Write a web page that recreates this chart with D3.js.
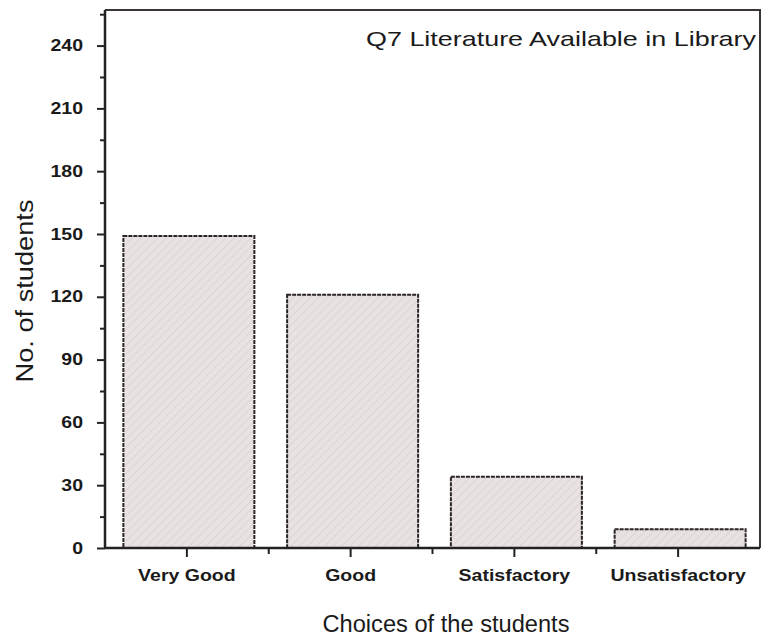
<!DOCTYPE html>
<html>
<head>
<meta charset="utf-8">
<script src="https://cdn.jsdelivr.net/npm/d3@7"></script>
<style>
  body { margin: 0; background: #fff; }
  svg text { font-family: "Liberation Sans", Arial, sans-serif; fill: #1a1a1a; }
</style>
</head>
<body>
<div id="chart"></div>
<script>
// datos
let categories = ['Very Good', 'Good', 'Satisfactory', 'Unsatisfactory'];
let students = [149, 121, 34, 9];
let yTicks = [0, 30, 60, 90, 120, 150, 180, 210, 240];
let yMax = 257;
let titleText = 'Q7 Literature Available in Library';

let margin = {top: 10, right: 2, bottom: 96, left: 105};
let W = 762, H = 644;
let width = W - margin.left - margin.right,
    height = H - margin.top - margin.bottom;
let stretch = 1.22; //la foto tiene el texto algo ensanchado

let svg = d3.select('#chart').append('svg')
    .attr('width', W)
    .attr('height', H);

//patron de rayas suaves para las barras
let defs = svg.append('defs');
let pat = defs.append('pattern')
    .attr('id', 'hatch')
    .attr('patternUnits', 'userSpaceOnUse')
    .attr('width', 6).attr('height', 6)
    .attr('patternTransform', 'rotate(45)');
pat.append('rect').attr('width', 6).attr('height', 6).attr('fill', '#e8e2e2');
pat.append('line').attr('x1', 0).attr('y1', 0).attr('x2', 0).attr('y2', 6)
    .attr('stroke', '#d5cdcd').attr('stroke-width', 1.2);

let chart = svg.append('g')
    .attr('transform', 'translate(' + margin.left + ',' + margin.top + ')');

let x_c = d3.scaleBand()
    .domain(categories)
    .range([0, width])
    .paddingInner(0.2)
    .paddingOuter(0.1);

let y_c = d3.scaleLinear()
    .domain([0, yMax])
    .range([height, 0]);

//barras
chart.selectAll('.bar')
    .data(categories)
    .enter()
    .append('rect')
    .attr('class', 'bar')
    .attr('x', function(d) { return x_c(d) + 2; })
    .attr('width', x_c.bandwidth())
    .attr('y', function(d, i) { return y_c(students[i]); })
    .attr('height', function(d, i) { return height - y_c(students[i]); })
    .attr('fill', 'url(#hatch)')
    .attr('stroke', '#2a2424')
    .attr('stroke-width', 2)
    .attr('stroke-dasharray', '4 1');

//marco superior y derecho
chart.append('path')
    .attr('d', 'M0,0H' + width + 'V' + height)
    .attr('fill', 'none')
    .attr('stroke', '#3a3434')
    .attr('stroke-width', 2);

//eje Y
let yMinor = d3.range(15, yMax, 30);
chart.append('g')
    .call(d3.axisLeft(y_c).tickValues(yMinor).tickSize(5).tickFormat(''))
    .call(function(g) { g.select('.domain').remove(); })
    .call(function(g) { g.selectAll('.tick line').attr('stroke', '#222').attr('stroke-width', 2); });

chart.append('g')
    .call(d3.axisLeft(y_c).tickValues(yTicks).tickSize(8))
    .call(function(g) {
        g.select('.domain').attr('stroke', '#222').attr('stroke-width', 2.5)
            .attr('d', 'M0,0V' + height);
        g.selectAll('.tick line').attr('stroke', '#222').attr('stroke-width', 2);
        g.selectAll('.tick text')
            .attr('font-size', 16).attr('font-weight', 'bold').attr('fill', '#222')
            .attr('x', -22 / stretch)
            .attr('transform', 'scale(' + stretch + ',1)');
    });

//eje X
let xMinorPos = categories.slice(1).map(function(d) { return x_c(d) - x_c.step() * x_c.paddingInner() / 2; });
chart.append('g')
    .attr('transform', 'translate(0,' + height + ')')
    .selectAll('line')
    .data(xMinorPos)
    .enter()
    .append('line')
    .attr('x1', function(d) { return d; }).attr('x2', function(d) { return d; })
    .attr('y1', 0).attr('y2', 6)
    .attr('stroke', '#222').attr('stroke-width', 2);

chart.append('g')
    .attr('transform', 'translate(0,' + height + ')')
    .call(d3.axisBottom(x_c).tickSize(9).tickPadding(13))
    .call(function(g) {
        g.select('.domain').attr('stroke', '#222').attr('stroke-width', 2.5)
            .attr('d', 'M0,0H' + width);
        g.selectAll('.tick line').attr('stroke', '#222').attr('stroke-width', 2);
        g.selectAll('.tick text')
            .attr('font-size', 16).attr('font-weight', 'bold').attr('fill', '#222')
            .attr('transform', 'scale(' + stretch + ',1)');
    });

//titulos
chart.append('text')
    .attr('x', width - 4)
    .attr('y', 36)
    .attr('text-anchor', 'end')
    .attr('font-size', 21)
    .attr('textLength', 390)
    .attr('lengthAdjust', 'spacingAndGlyphs')
    .text(titleText);

svg.append('text')
    .attr('x', 446)
    .attr('y', 632)
    .attr('text-anchor', 'middle')
    .attr('font-size', 23)
    .attr('textLength', 247)
    .attr('lengthAdjust', 'spacingAndGlyphs')
    .text('Choices of the students');

svg.append('text')
    .attr('transform', 'translate(33,291) rotate(-90)')
    .attr('text-anchor', 'middle')
    .attr('font-size', 23)
    .attr('textLength', 183)
    .attr('lengthAdjust', 'spacingAndGlyphs')
    .text('No. of students');
</script>
</body>
</html>
